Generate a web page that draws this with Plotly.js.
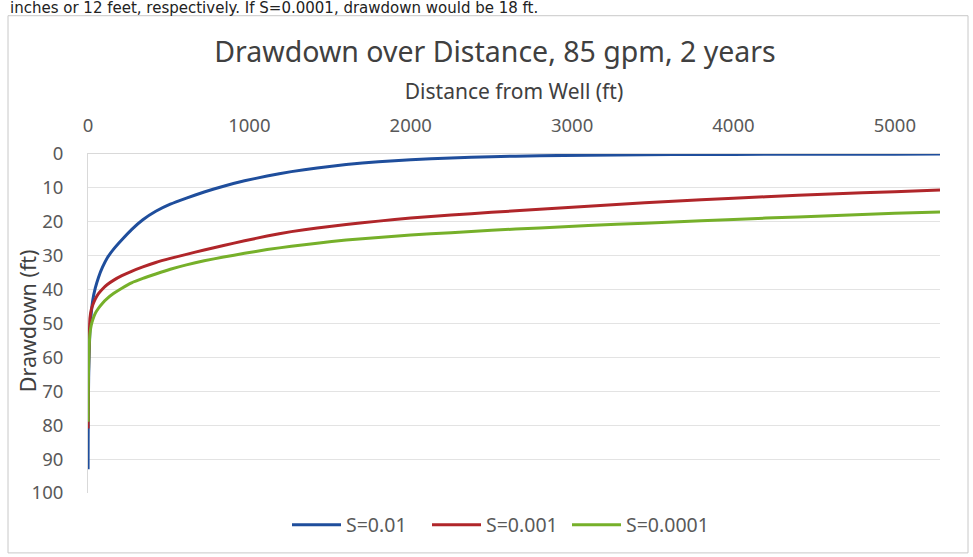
<!DOCTYPE html>
<html>
<head>
<meta charset="utf-8">
<script src="https://cdn.plot.ly/plotly-3.0.1.min.js"></script>
<style>html,body{margin:0;padding:0;background:#fff;}#chart{width:973px;height:557px;}</style>
</head>
<body>
<div id="chart"></div>
<script>
// Distance from well (ft)
var distance = [0.5, 1, 2, 4, 7, 12, 20, 30, 45, 65, 90, 120, 160, 210, 270, 340, 420, 510, 610, 720, 840, 970, 1110, 1260, 1420, 1600, 1800, 2000, 2250, 2500, 2800, 3100, 3450, 3800, 4200, 4600, 5000, 5280];
// Drawdown (ft) for each storativity
var sS001   = [93, 84, 75, 66, 59, 52, 47, 43, 39.6, 36.4, 33.4, 30.6, 28.0, 25.3, 22.3, 19.4, 16.9, 14.8, 13.0, 11.2, 9.5, 7.9, 6.5, 5.2, 4.1, 3.1, 2.3, 1.7, 1.15, 0.8, 0.5, 0.35, 0.22, 0.15, 0.1, 0.06, 0.04, 0.03];
var sS0001  = [81, 75, 68, 61, 55, 48.5, 46, 44.5, 42.8, 41.2, 39.8, 38.5, 37.2, 35.9, 34.6, 33.3, 32.0, 30.8, 29.6, 28.3, 27.0, 25.6, 24.2, 22.9, 21.8, 20.8, 19.8, 18.9, 18.0, 17.2, 16.3, 15.4, 14.4, 13.5, 12.6, 11.8, 11.1, 10.6];
var sS00001 = [79, 74, 68, 62, 57, 53, 50.5, 48.8, 47.0, 45.5, 44.0, 42.6, 41.1, 39.6, 38.0, 36.7, 35.4, 34.0, 32.7, 31.5, 30.4, 29.3, 28.2, 27.2, 26.3, 25.4, 24.6, 23.9, 23.2, 22.5, 21.8, 21.1, 20.4, 19.7, 18.9, 18.2, 17.5, 17.1];
var seriesNames = ["S=0.01", "S=0.001", "S=0.0001"];
var xTicks = [0, 1000, 2000, 3000, 4000, 5000];
var yTicks = [0, 10, 20, 30, 40, 50, 60, 70, 80, 90, 100];

var colors = ["#1f4e9c", "#b0262a", "#76b02a"];
var vals = [sS001, sS0001, sS00001];
var traces = vals.map(function(v, i){
  return {x: distance, y: v, type: "scatter", mode: "lines", name: seriesNames[i],
          line: {color: colors[i], width: 3, shape: "spline", smoothing: 0.4}};
});

var L = 88, R = 940, T = 153.5, B = 493, W = 973, H = 557;
function px(x){ return (x - L) / (R - L); }
function py(y){ return (B - y) / (B - T); }

var layout = {
  width: W, height: H,
  margin: {l: L, r: W - R, t: T, b: H - B},
  paper_bgcolor: "#ffffff", plot_bgcolor: "#ffffff",
  font: {family: "Noto Sans, sans-serif", color: "#595959"},
  title: {text: "Drawdown over Distance, 85 gpm, 2 years", font: {size: 28.5, color: "#404040"},
          xref: "container", x: 495 / W, xanchor: "center", y: 1 - 52/H, yanchor: "middle"},
  showlegend: true,
  legend: {orientation: "h", x: px(287), xanchor: "left", y: py(525), yanchor: "middle",
           font: {size: 19.5, color: "#595959"}, itemwidth: 49, tracegroupgap: 0,
           entrywidth: 76, entrywidthmode: "pixels"},
  xaxis: {side: "top", range: [0, 5280], tickvals: xTicks, ticks: "", showgrid: false,
          zeroline: false, showline: true, linecolor: "#d9d9d9", linewidth: 1,
          ticklabelstandoff: 14,
          tickfont: {size: 18.5, color: "#595959"},
          title: {text: "Distance from Well (ft)", font: {size: 21, color: "#404040"}, standoff: 6}},
  yaxis: {range: [100, 0], tickvals: yTicks, ticks: "", showgrid: true, gridcolor: "#e3e3e3",
          zeroline: false, showline: true, linecolor: "#d9d9d9", linewidth: 1,
          ticklabelstandoff: 20,
          tickfont: {size: 18.5, color: "#595959"}},
  shapes: [{type: "rect", xref: "paper", yref: "paper", x0: px(8), x1: px(968), y0: py(553), y1: py(15),
            line: {color: "#c8c8c8", width: 1}, layer: "below"}],
  annotations: [
    {text: "inches or 12 feet, respectively. If S=0.0001, drawdown would be 18 ft.",
     xref: "paper", yref: "paper", x: px(8), xanchor: "left", y: py(7), yanchor: "middle",
     showarrow: false, font: {size: 15, color: "#222222", family: "DejaVu Sans, sans-serif"}},
    {text: "Drawdown (ft)", textangle: -90, xref: "paper", yref: "paper",
     x: px(27), xanchor: "center", y: py(320), yanchor: "middle", showarrow: false,
     font: {size: 21.5, color: "#404040"}}
  ]
};

Plotly.newPlot("chart", traces, layout, {displayModeBar: false, staticPlot: true});
</script>
</body>
</html>
